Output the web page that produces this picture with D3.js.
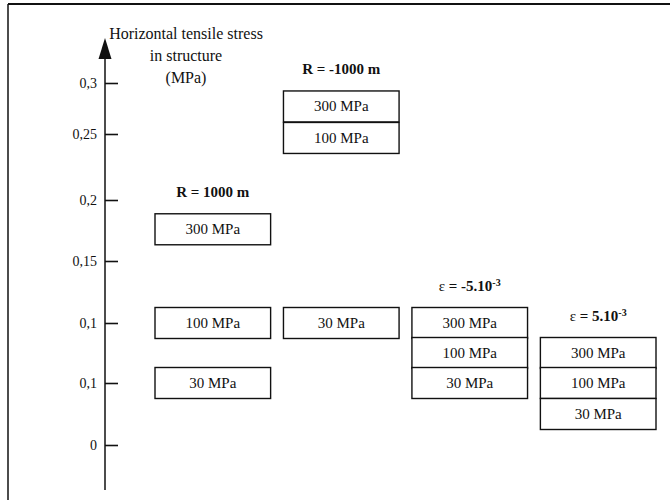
<!DOCTYPE html>
<html>
<head>
<meta charset="utf-8">
<script src="https://cdn.jsdelivr.net/npm/d3@7"></script>
<style>
  body { margin: 0; background: #fff; }
  text { font-family: "Liberation Serif", "Times New Roman", "DejaVu Serif", serif; fill: #111; }
</style>
</head>
<body>
<script>

//Define the width and height variables
var w = 670;
var h = 500;

//tick values on the stress axis and the labels printed next to them (the 0.05 tick is printed as "0,1" in the original)
var tickValues = [0, 0.05, 0.1, 0.15, 0.2, 0.25, 0.3];
var tickLabels = ["0", "0,1", "0,1", "0,15", "0,2", "0,25", "0,3"];

//the four cases, one column each
var groups = ["R1000", "Rm1000", "epsm5", "eps5"];
var groupNames = ["R = 1000 m", "R = -1000 m", "= -5.10", "= 5.10"];

//boxes: which column, the label inside and the stress value at the box centre
var boxGroup = ["R1000", "R1000", "R1000", "Rm1000", "Rm1000", "Rm1000",
                "epsm5", "epsm5", "epsm5", "eps5", "eps5", "eps5"];
var boxLabel = ["300 MPa", "100 MPa", "30 MPa", "300 MPa", "100 MPa", "30 MPa",
                "300 MPa", "100 MPa", "30 MPa", "300 MPa", "100 MPa", "30 MPa"];
var boxValue = [0.176, 0.1, 0.05, 0.277, 0.247, 0.1,
                0.1, 0.075, 0.05, 0.075, 0.05, 0.025];

//axis title lines
var titleLines = ["Horizontal tensile stress", "in structure", "(MPa)"];


//Create SVG element
var svg = d3.select("body")
            .append("svg")
            .attr("width", w)
            .attr("height", h);

//frame lines (left and top) of the scanned figure
svg.append("line")
   .attr("x1", 8).attr("y1", 4).attr("x2", 8).attr("y2", h)
   .attr("stroke", "#111").attr("stroke-width", 1.5);
svg.append("line")
   .attr("x1", 8).attr("y1", 4).attr("x2", w).attr("y2", 4)
   .attr("stroke", "#111").attr("stroke-width", 2);


//y scale: the printed ticks are not quite evenly spaced, so use a piecewise linear scale
var y = d3.scaleLinear()
    .domain(tickValues)
    .range([445, 383, 323, 261, 200, 134, 83]);

//x scale: one band per case
var x = d3.scaleBand()
    .domain(groups)
    .range([155, 656])
    .paddingInner(0.1);

var axisX = 105;

//vertical axis with ticks on the right side
var axis = svg.append("g")
    .attr("transform", "translate(" + axisX + ",0)")
    .call(d3.axisRight(y)
        .tickValues(tickValues)
        .tickSize(13)
        .tickFormat(""));

axis.select(".domain").remove();
axis.selectAll(".tick line").attr("stroke", "#111").attr("stroke-width", 1.6);

//axis line
svg.append("line")
   .attr("x1", axisX).attr("x2", axisX)
   .attr("y1", 55).attr("y2", 490)
   .attr("stroke", "#111").attr("stroke-width", 1.5);

//arrow head at the top of the axis
svg.append("path")
   .attr("d", "M" + axisX + ",38 L" + (axisX - 6.5) + ",59 L" + (axisX + 6.5) + ",59 Z")
   .attr("fill", "#111");

//tick labels, placed left of the axis
svg.selectAll("text.tick-label")
   .data(tickValues)
   .enter()
   .append("text")
   .attr("class", "tick-label")
   .attr("x", 97)
   .attr("y", function(d) { return y(d) + 5; })
   .attr("text-anchor", "end")
   .attr("font-size", 14)
   .text(function(d, i) { return tickLabels[i]; });

//axis title
svg.selectAll("text.title")
   .data(titleLines)
   .enter()
   .append("text")
   .attr("class", "title")
   .attr("x", 186)
   .attr("y", function(d, i) { return 39 + i * 22; })
   .attr("text-anchor", "middle")
   .attr("font-size", 16)
   .text(function(d) { return d; });


//build the box table from the arrays
var boxes = boxLabel.map(function(d, i) {
    return {group: boxGroup[i], label: d, value: boxValue[i]};
});

//all boxes have the height of a 0.025 step on the lower part of the axis
var boxH = y(0) - y(0.025);

var boxG = svg.selectAll("g.box")
    .data(boxes)
    .enter()
    .append("g")
    .attr("class", "box");

boxG.append("rect")
    .attr("x", function(d) { return x(d.group); })
    .attr("y", function(d) { return y(d.value) - boxH / 2; })
    .attr("width", x.bandwidth())
    .attr("height", boxH)
    .attr("fill", "#fff")
    .attr("stroke", "#111")
    .attr("stroke-width", 1.4);

boxG.append("text")
    .attr("x", function(d) { return x(d.group) + x.bandwidth() / 2; })
    .attr("y", function(d) { return y(d.value) + 5; })
    .attr("text-anchor", "middle")
    .attr("font-size", 15)
    .text(function(d) { return d.label; });


//case labels above the top box of each column
groups.forEach(function(g, i) {
    var top = d3.max(boxes.filter(function(b) { return b.group == g; }), function(b) { return b.value; });
    var t = svg.append("text")
        .attr("x", x(g) + x.bandwidth() / 2)
        .attr("y", y(top) - boxH / 2 - 17)
        .attr("text-anchor", "middle")
        .attr("font-size", 15)
        .attr("font-weight", "bold");

    if (g.indexOf("eps") == 0) {
        //epsilon cases: greek letter, bold value and a superscript exponent
        t.append("tspan").attr("font-weight", "normal").text("\u03b5 ");
        t.append("tspan").text(groupNames[i]);
        t.append("tspan").attr("font-size", 10).attr("dy", -5).text("-3");
    } else {
        t.text(groupNames[i]);
    }
});

</script>
</body>
</html>
